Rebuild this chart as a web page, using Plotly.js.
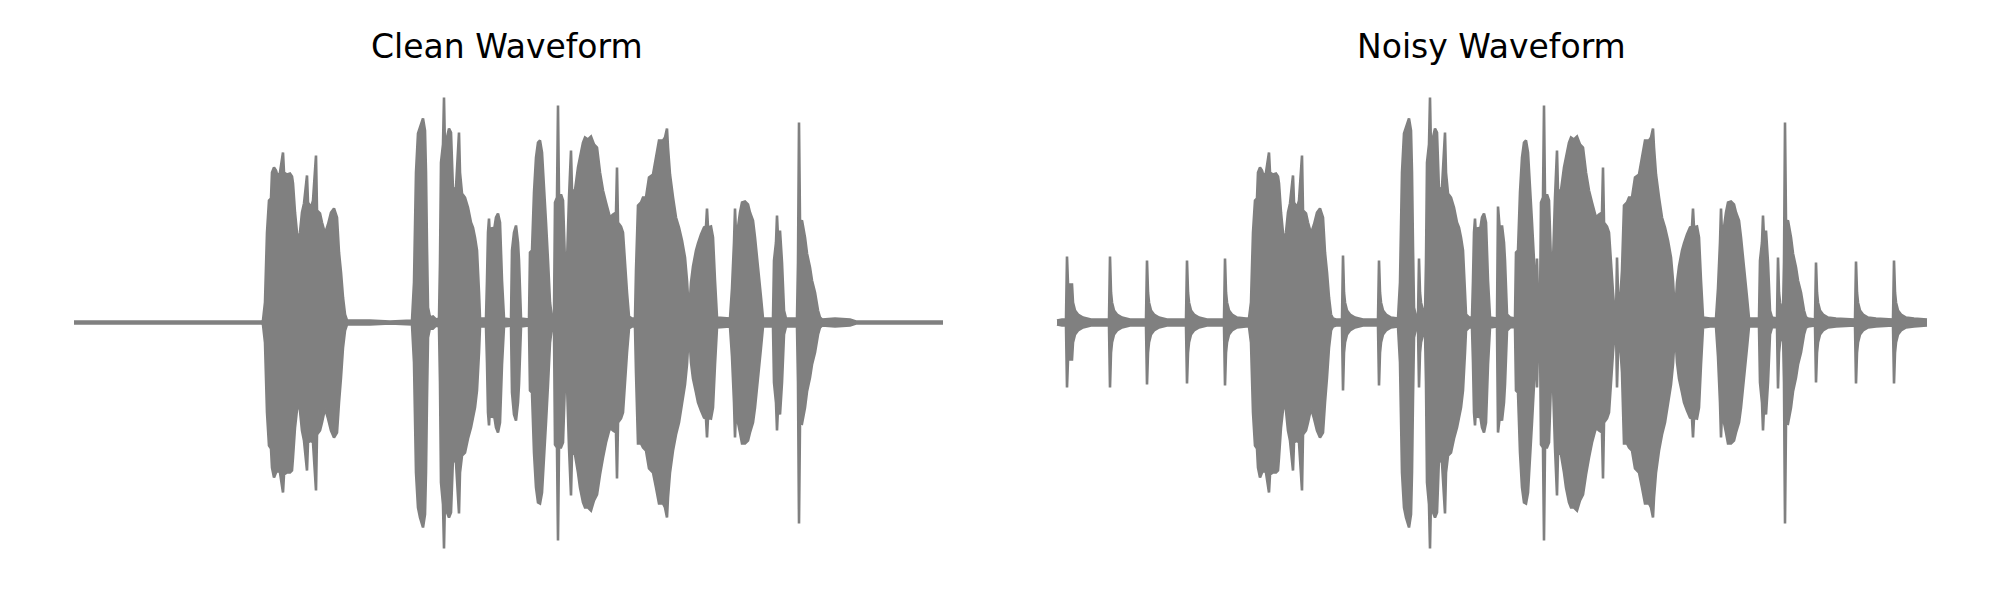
<!DOCTYPE html>
<html>
<head>
<meta charset="utf-8">
<script src="https://cdn.plot.ly/plotly-3.0.1.min.js"></script>
<style>html,body{margin:0;padding:0;background:#fff;}#chart{width:2000px;height:600px;}</style>
</head>
<body>
<div id="chart"></div>
<script>
// Envelope of each waveform: frame index, upper and lower amplitude (full scale = 1)
const titles = ["Clean Waveform", "Noisy Waveform"];

const cleanT = [0,100,188,189,191,193,195,197,198,200,202,204,206,209,210,213,216,218,219,221,224,226,228,230,233,234,237,239,242,243,246,248,251,254,257,260,263,265,267,269,271,273,296,316,338,340,342,344,346,349,351,352,353,354,356,359,362,365,366,367,369,370,371,373,375,377,379,382,385,386,388,391,394,397,399,401,403,405,406,412,413,414,415,416,418,420,422,424,426,428,430,437,438,440,442,444,445,447,455,456,458,460,462,464,466,468,470,472,474,476,478,480,481,483,484,485,487,489,491,493,495,497,498,501,504,506,509,511,514,517,520,523,526,529,532,536,539,542,543,544,547,549,551,553,555,558,561,562,564,567,569,572,575,579,582,585,589,591,593,594,596,599,602,605,608,611,613,615,617,619,622,624,627,630,632,633,634,637,639,641,643,656,658,660,661,662,664,666,668,671,674,676,679,681,684,687,689,699,700,702,703,704,706,708,710,712,723,724,725,726,728,731,733,736,738,741,744,746,748,761,776,782,869];
const cleanTop = [.004,.004,.004,.008,.08,.36,.488,.496,.6,.62,.608,.58,.6,.68,.6,.592,.596,.584,.556,.44,.316,.36,.44,.476,.588,.48,.46,.488,.668,.448,.436,.4,.356,.392,.44,.456,.42,.28,.2,.1,.032,.008,.008,.004,.008,.16,.6,.756,.78,.816,.768,.6,.3,.06,.02,.024,.012,.016,.24,.64,.712,.9,.688,.74,.776,.76,.528,.54,.76,.6,.516,.5,.46,.4,.38,.34,.288,.12,.016,.016,.168,.36,.416,.34,.38,.368,.42,.436,.4,.168,.016,.012,.288,.36,.388,.32,.248,.016,.012,.28,.288,.52,.66,.72,.728,.68,.54,.4,.248,.08,.016,.02,.48,.5,.868,.5,.512,.488,.24,.24,.5,.688,.528,.528,.62,.66,.72,.74,.732,.744,.712,.7,.6,.528,.48,.42,.432,.44,.62,.4,.384,.36,.24,.12,.024,.016,.016,.208,.468,.48,.5,.5,.58,.592,.66,.728,.728,.74,.776,.7,.592,.5,.42,.38,.328,.26,.168,.032,.16,.224,.288,.316,.352,.38,.384,.456,.38,.384,.34,.168,.02,.016,.136,.32,.456,.352,.38,.44,.48,.484,.472,.44,.408,.34,.22,.1,.016,.016,.248,.32,.428,.34,.368,.24,.048,.016,.016,.24,.8,.4,.408,.34,.276,.22,.168,.12,.048,.02,.012,.016,.012,.004,.004];
const cleanBot = [-.004,-.004,-.004,-.008,-.08,-.36,-.492,-.504,-.58,-.62,-.6,-.592,-.6,-.68,-.608,-.6,-.6,-.592,-.54,-.42,-.312,-.352,-.432,-.472,-.592,-.48,-.472,-.48,-.672,-.448,-.432,-.4,-.344,-.384,-.432,-.46,-.44,-.32,-.22,-.1,-.032,-.008,-.008,-.004,-.008,-.16,-.6,-.74,-.78,-.82,-.768,-.6,-.3,-.06,-.02,-.024,-.012,-.016,-.24,-.64,-.728,-.904,-.7,-.76,-.78,-.76,-.54,-.56,-.764,-.6,-.532,-.52,-.464,-.42,-.38,-.34,-.272,-.12,-.016,-.016,-.16,-.36,-.412,-.34,-.38,-.368,-.42,-.44,-.4,-.168,-.016,-.012,-.28,-.368,-.392,-.32,-.248,-.016,-.012,-.272,-.28,-.52,-.66,-.72,-.724,-.68,-.54,-.4,-.248,-.08,-.016,-.02,-.488,-.5,-.872,-.5,-.5,-.48,-.24,-.248,-.5,-.692,-.52,-.528,-.6,-.66,-.72,-.74,-.74,-.752,-.712,-.688,-.608,-.54,-.48,-.42,-.432,-.44,-.624,-.4,-.384,-.36,-.24,-.12,-.024,-.016,-.016,-.2,-.484,-.484,-.5,-.512,-.584,-.6,-.66,-.724,-.724,-.74,-.78,-.7,-.6,-.512,-.448,-.4,-.324,-.248,-.168,-.032,-.16,-.224,-.28,-.32,-.352,-.38,-.384,-.46,-.38,-.384,-.34,-.168,-.02,-.016,-.136,-.32,-.46,-.352,-.4,-.44,-.484,-.484,-.472,-.44,-.4,-.34,-.22,-.1,-.016,-.016,-.24,-.32,-.432,-.34,-.368,-.24,-.048,-.016,-.016,-.24,-.804,-.4,-.404,-.34,-.276,-.22,-.168,-.12,-.048,-.02,-.012,-.016,-.012,-.004,-.004];

const noisyT = [-3,2,6,7,8,12,13,15,18,23,31,49,50,51,52,54,57,62,70,86,87,88,89,91,94,99,107,126,127,128,129,131,134,139,147,164,165,166,167,169,172,177,186,189,191,193,195,197,198,200,202,204,206,209,210,213,216,218,219,221,224,226,228,230,233,234,237,239,242,243,246,248,251,254,257,260,263,265,267,269,271,273,276,282,283,284,285,287,290,295,303,318,319,320,321,323,326,331,338,340,342,344,346,349,351,352,353,354,356,358,359,360,361,363,365,366,367,369,370,371,373,375,377,379,382,385,386,388,391,394,397,399,401,403,405,406,409,412,413,414,415,416,418,420,422,424,426,428,430,437,438,440,442,444,445,447,450,455,456,458,460,462,464,466,468,470,472,474,476,477,478,480,481,483,484,485,487,489,491,493,495,497,498,501,504,506,509,511,514,517,520,523,526,529,532,536,539,542,543,544,547,549,551,553,555,556,557,558,560,562,564,567,569,572,575,579,582,585,589,591,593,594,596,599,602,605,608,611,613,615,617,619,622,624,627,630,632,633,634,637,639,641,643,650,656,658,660,661,662,664,666,668,671,674,676,679,681,684,687,689,699,700,702,703,704,706,708,710,712,717,718,719,720,722,723,724,725,726,728,731,733,736,738,741,744,746,748,755,756,757,758,760,763,768,776,795,796,797,798,800,803,808,816,833,834,835,836,838,841,846,854,867];
const noisyTop = [.008,.012,.012,.264,.152,.152,.08,.048,.032,.02,.012,.012,.264,.12,.08,.048,.032,.02,.012,.012,.248,.12,.08,.048,.032,.02,.012,.012,.248,.12,.08,.048,.032,.02,.012,.012,.256,.12,.08,.048,.032,.02,.016,.016,.08,.36,.488,.496,.6,.62,.608,.58,.6,.68,.6,.592,.596,.584,.556,.44,.316,.36,.44,.476,.588,.48,.46,.488,.668,.448,.436,.4,.356,.392,.44,.456,.42,.28,.2,.1,.032,.016,.012,.012,.268,.12,.08,.048,.032,.02,.012,.012,.248,.12,.08,.048,.032,.02,.016,.16,.6,.756,.78,.816,.768,.6,.3,.06,.024,.02,.256,.12,.08,.048,.032,.24,.64,.712,.9,.688,.74,.776,.76,.528,.54,.76,.6,.516,.5,.46,.4,.38,.34,.288,.12,.032,.02,.02,.168,.36,.416,.34,.38,.368,.42,.436,.4,.168,.02,.016,.464,.36,.388,.32,.248,.032,.02,.016,.28,.288,.52,.66,.72,.728,.68,.54,.4,.248,.08,.256,.1,.06,.48,.5,.868,.5,.512,.488,.24,.24,.5,.688,.528,.528,.62,.66,.72,.74,.732,.744,.712,.7,.6,.528,.48,.42,.432,.44,.62,.4,.384,.36,.24,.12,.024,.02,.26,.12,.08,.208,.468,.48,.5,.5,.58,.592,.66,.728,.728,.74,.776,.7,.592,.5,.42,.38,.328,.26,.168,.032,.16,.224,.288,.316,.352,.38,.384,.456,.38,.384,.34,.168,.02,.016,.016,.136,.32,.456,.352,.38,.44,.48,.484,.472,.44,.408,.34,.22,.1,.016,.016,.248,.32,.428,.34,.368,.24,.048,.02,.016,.26,.12,.08,.048,.04,.24,.8,.4,.408,.34,.276,.22,.168,.12,.048,.02,.016,.012,.24,.12,.08,.048,.032,.02,.016,.012,.244,.12,.08,.048,.032,.02,.016,.012,.248,.12,.08,.048,.032,.02,.016,.012];
const noisyBot = [-.008,-.012,-.012,-.26,-.148,-.148,-.08,-.048,-.032,-.02,-.012,-.012,-.26,-.12,-.08,-.048,-.032,-.02,-.012,-.012,-.248,-.12,-.08,-.048,-.032,-.02,-.012,-.012,-.244,-.12,-.08,-.048,-.032,-.02,-.012,-.012,-.252,-.12,-.08,-.048,-.032,-.02,-.016,-.016,-.08,-.36,-.492,-.504,-.58,-.62,-.6,-.592,-.6,-.68,-.608,-.6,-.6,-.592,-.54,-.42,-.312,-.352,-.432,-.472,-.592,-.48,-.472,-.48,-.672,-.448,-.432,-.4,-.344,-.384,-.432,-.46,-.44,-.32,-.22,-.1,-.032,-.016,-.012,-.012,-.272,-.12,-.08,-.048,-.032,-.02,-.012,-.012,-.252,-.12,-.08,-.048,-.032,-.02,-.016,-.16,-.6,-.74,-.78,-.82,-.768,-.6,-.3,-.06,-.024,-.02,-.26,-.12,-.08,-.048,-.032,-.24,-.64,-.728,-.904,-.7,-.76,-.78,-.76,-.54,-.56,-.764,-.6,-.532,-.52,-.464,-.42,-.38,-.34,-.272,-.12,-.032,-.02,-.02,-.16,-.36,-.412,-.34,-.38,-.368,-.42,-.44,-.4,-.168,-.02,-.016,-.44,-.368,-.392,-.32,-.248,-.032,-.02,-.016,-.272,-.28,-.52,-.66,-.72,-.724,-.68,-.54,-.4,-.248,-.08,-.26,-.1,-.06,-.488,-.5,-.872,-.5,-.5,-.48,-.24,-.248,-.5,-.692,-.52,-.528,-.6,-.66,-.72,-.74,-.74,-.752,-.712,-.688,-.608,-.54,-.48,-.42,-.432,-.44,-.624,-.4,-.384,-.36,-.24,-.12,-.024,-.02,-.26,-.12,-.08,-.2,-.484,-.484,-.5,-.512,-.584,-.6,-.66,-.724,-.724,-.74,-.78,-.7,-.6,-.512,-.448,-.4,-.324,-.248,-.168,-.032,-.16,-.224,-.28,-.32,-.352,-.38,-.384,-.46,-.38,-.384,-.34,-.168,-.02,-.016,-.016,-.136,-.32,-.46,-.352,-.4,-.44,-.484,-.484,-.472,-.44,-.4,-.34,-.22,-.1,-.016,-.016,-.24,-.32,-.432,-.34,-.368,-.24,-.048,-.02,-.016,-.264,-.12,-.08,-.048,-.04,-.24,-.804,-.4,-.404,-.34,-.276,-.22,-.168,-.12,-.048,-.02,-.016,-.012,-.24,-.12,-.08,-.048,-.032,-.02,-.016,-.012,-.244,-.12,-.08,-.048,-.032,-.02,-.016,-.012,-.244,-.12,-.08,-.048,-.032,-.02,-.016,-.012];

const grey = '#808080';
function env(x, y, xa, ya, fill) {
  return {x: x, y: y, xaxis: xa, yaxis: ya, type: 'scatter', mode: 'lines',
    line: {color: grey, width: 2.6, simplify: false},
    fill: fill ? 'tonexty' : 'none', fillcolor: grey, hoverinfo: 'skip', showlegend: false};
}
const data = [
  env(cleanT, cleanTop, 'x', 'y', false),
  env(cleanT, cleanBot, 'x', 'y', true),
  env(noisyT, noisyTop, 'x2', 'y2', false),
  env(noisyT, noisyBot, 'x2', 'y2', true)
];
const yDom = [27.5/600, 527.5/600];
const layout = {
  width: 2000, height: 600,
  margin: {l: 0, r: 0, t: 0, b: 0},
  paper_bgcolor: '#ffffff', plot_bgcolor: '#ffffff',
  showlegend: false,
  xaxis: {domain: [70/2000, 946/2000], range: [-4, 872], visible: false, anchor: 'y'},
  yaxis: {domain: yDom, range: [-1, 1], visible: false, anchor: 'x'},
  xaxis2: {domain: [1056/2000, 1932/2000], range: [-4, 872], visible: false, anchor: 'y2'},
  yaxis2: {domain: yDom, range: [-1, 1], visible: false, anchor: 'x2'},
  annotations: [
    {text: titles[0], xref: 'paper', yref: 'paper', x: 507.5/2000, y: (600-46)/600, xanchor: 'center', yanchor: 'middle', showarrow: false, font: {family: 'DejaVu Sans', size: 33, color: '#000000'}},
    {text: titles[1], xref: 'paper', yref: 'paper', x: 1491.5/2000, y: (600-46)/600, xanchor: 'center', yanchor: 'middle', showarrow: false, font: {family: 'DejaVu Sans', size: 33, color: '#000000'}}
  ]
};
Plotly.newPlot('chart', data, layout, {staticPlot: true, displayModeBar: false});
</script>
</body>
</html>
